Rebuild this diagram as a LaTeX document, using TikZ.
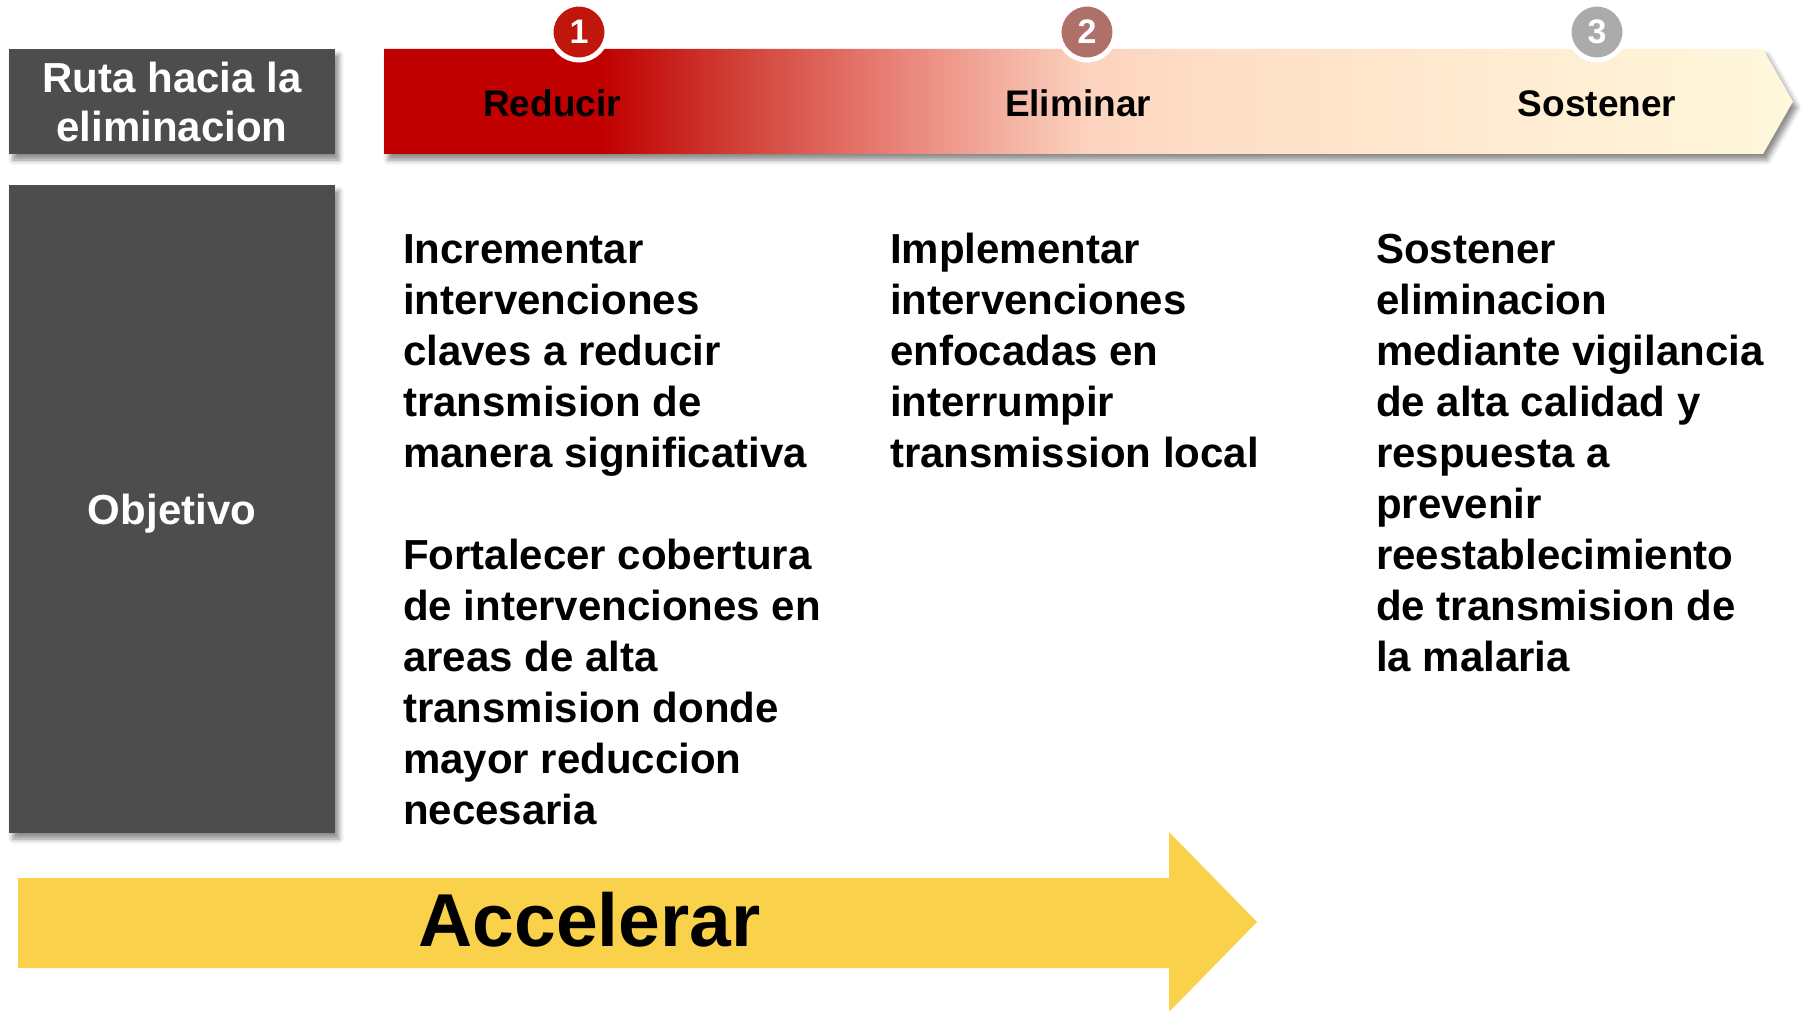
\documentclass[tikz,border=0pt]{standalone}
\usepackage{fontspec}
\setmainfont{Liberation Sans}
\usepackage{xcolor}
\usetikzlibrary{positioning, shadows.blur}

\definecolor{boxgray}{HTML}{4D4D4D}
\definecolor{rojo}{HTML}{C00000}
\definecolor{rojomed}{HTML}{D2463C}
\definecolor{salmon}{HTML}{E88076}
\definecolor{melocoton}{HTML}{FCD3BF}
\definecolor{durazno}{HTML}{FEDEC6}
\definecolor{crema}{HTML}{FFF8DC}
\definecolor{amarillo}{HTML}{F9D14A}
\definecolor{badgeuno}{HTML}{C0160C}
\definecolor{badgedos}{HTML}{B0706A}
\definecolor{badgetres}{HTML}{ABABAB}

\pgfdeclarehorizontalshading{rutashade}{100bp}{color(0bp)=(rojo); color(25bp)=(rojo);
  color(32.75bp)=(rojo); color(38bp)=(rojomed); color(43bp)=(salmon);
  color(50bp)=(melocoton); color(54bp)=(durazno); color(75bp)=(crema); color(100bp)=(crema)}

\begin{document}
\begin{tikzpicture}[
			x=1pt, y=-1pt,
			softshadow/.style={blur shadow={shadow xshift=4pt, shadow yshift=-6pt, shadow blur radius=5pt, shadow opacity=45}},
			darkbox/.style={fill=boxgray, softshadow, text=white, align=center, inner sep=0pt, minimum width=326pt,
				font=\bfseries\fontsize{42}{49}\selectfont},
			phase/.style={anchor=base, inner sep=0pt, font=\bfseries\fontsize{37}{44}\selectfont},
			goal/.style={anchor=base west, inner sep=0pt, align=left, font=\bfseries\fontsize{42}{51}\selectfont},
			badge/.style={circle, draw=white, line width=5pt, minimum size=56pt, inner sep=0pt, text=white,
				font=\bfseries\fontsize{34}{40}\selectfont}
			]
			\useasboundingbox (0,0) rectangle (1812,1011);
			
			% Banner arrows
			\shade[shading=rutashade, softshadow] (384,49) -- (1763,49) -- (1793,101.5) -- (1763,154) -- (384,154) -- cycle;
			\fill[amarillo] (18,878) -- (1169,878) -- (1169,832) -- (1257,922) -- (1169,1012) -- (1169,968) -- (18,968) -- cycle;
			
			% Nodes
			\node (ruta) [darkbox, minimum height=105pt] at (172,101.5) {Ruta hacia la\\eliminacion};
			\node (objetivo) [darkbox, minimum height=648pt, text depth=0pt] at (172,509) {Objetivo};
			
			\node (reducir) [phase] at (552,117) {Reducir};
			\node (eliminar) [phase] at (1078,117) {Eliminar};
			\node (sostener) [phase] at (1597,117) {Sostener};
			
			\node (uno) [badge, fill=badgeuno] at (579,32) {1};
			\node (dos) [badge, fill=badgedos] at (1087,32) {2};
			\node (tres) [badge, fill=badgetres] at (1597,32) {3};
			
			% goal texts, placed at the baseline of their last line
			\node (incrementar) [goal] at (403,467) {Incrementar\\intervenciones\\claves a reducir\\transmision de\\manera significativa};
			\node (fortalecer) [goal] at (403,824) {Fortalecer cobertura\\de intervenciones en\\areas de alta\\transmision donde\\mayor reduccion\\necesaria};
			\node (implementar) [goal] at (890,467) {Implementar\\intervenciones\\enfocadas en\\interrumpir\\transmission local};
			\node (sostenerelim) [goal] at (1376,671) {Sostener\\eliminacion\\mediante vigilancia\\de alta calidad y\\respuesta a\\prevenir\\reestablecimiento\\de transmision de\\la malaria};
			
			\node (accelerar) [anchor=base, inner sep=0pt, font=\bfseries\fontsize{75}{90}\selectfont] at (589.5,946) {Accelerar};
			
		\end{tikzpicture}
\end{document}
